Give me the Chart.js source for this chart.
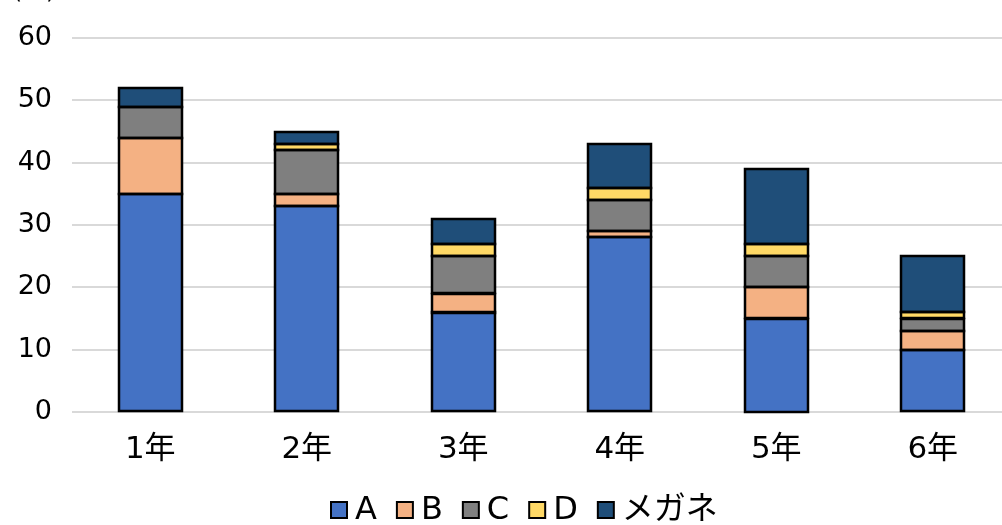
<!DOCTYPE html>
<html>
<head>
<meta charset="utf-8">
<script src="https://cdn.jsdelivr.net/npm/chart.js@4/dist/chart.umd.min.js"></script>
<style>
  html, body { margin: 0; padding: 0; background: #fff; overflow: hidden; }
  #wrap { width: 1002px; height: 525px; overflow: hidden; }
</style>
</head>
<body>
<div id="wrap"><canvas id="chart" width="1011" height="525"></canvas></div>
<script>
// 学年ごとの人数
const grades = ['1年', '2年', '3年', '4年', '5年', '6年'];
const seriesA = [35, 33, 16, 28, 15, 10];
const seriesB = [9, 2, 3, 1, 5, 3];
const seriesC = [5, 7, 6, 5, 5, 2];
const seriesD = [0, 1, 2, 2, 2, 1];
const seriesMegane = [3, 2, 4, 7, 12, 9];
const yTicks = [0, 10, 20, 30, 40, 50, 60];

const font = "'DejaVu Sans', 'Noto Sans CJK JP', sans-serif";

function ds(label, data, color) {
  return {
    label, data,
    backgroundColor: color,
    borderWidth: 0,
    barPercentage: 0.4,
    categoryPercentage: 1.0
  };
}

// 左上の単位ラベル（上端で切れている）
const unitLabel = {
  id: 'unitLabel',
  afterDraw(chart) {
    const ctx = chart.ctx;
    ctx.save();
    ctx.font = '24px ' + font;
    ctx.fillStyle = '#000';
    ctx.textAlign = 'center';
    ctx.textBaseline = 'bottom';
    ctx.fillText('(人)', 34, 4);
    ctx.restore();
  }
};

// 棒の黒い枠線（辺の中心に描く）
const barOutline = {
  id: 'barOutline',
  afterDatasetsDraw(chart) {
    const ctx = chart.ctx;
    ctx.save();
    ctx.strokeStyle = '#000';
    ctx.lineWidth = 2.5;
    chart.data.datasets.forEach((d, i) => {
      chart.getDatasetMeta(i).data.forEach((bar, j) => {
        if (!d.data[j]) return;
        const { x, y, base, width } = bar.getProps(['x', 'y', 'base', 'width'], true);
        ctx.strokeRect(Math.round(x - width / 2), Math.round(y), Math.round(width), Math.round(base - y));
      });
    });
    ctx.restore();
  }
};

// 凡例（Excel風: 小さい四角と文字の間を詰める）
const legendRow = {
  id: 'legendRow',
  afterDraw(chart) {
    const ctx = chart.ctx;
    const box = 16, gap = 8, itemGap = 20, cy = 510;
    ctx.save();
    ctx.font = '32px ' + font;
    ctx.textBaseline = 'middle';
    const items = chart.data.datasets.map(d => ({ label: d.label, color: d.backgroundColor, w: ctx.measureText(d.label).width }));
    let total = 0;
    items.forEach((it, i) => { total += box + gap + it.w + (i ? itemGap : 0); });
    let x = Math.round(524.5 - total / 2);
    items.forEach(it => {
      ctx.fillStyle = it.color;
      ctx.fillRect(x, cy - box / 2, box, box);
      ctx.strokeStyle = '#000';
      ctx.lineWidth = 2;
      ctx.strokeRect(x, cy - box / 2, box, box);
      ctx.fillStyle = '#000';
      ctx.textAlign = 'left';
      ctx.fillText(it.label, x + box + gap, cy + 1);
      x += box + gap + it.w + itemGap;
    });
    ctx.restore();
  }
};

new Chart(document.getElementById('chart').getContext('2d'), {
  type: 'bar',
  data: {
    labels: grades,
    datasets: [
      ds('A', seriesA, '#4472C4'),
      ds('B', seriesB, '#F4B183'),
      ds('C', seriesC, '#7F7F7F'),
      ds('D', seriesD, '#FFD966'),
      ds('メガネ', seriesMegane, '#1F4E79')
    ]
  },
  options: {
    responsive: false,
    animation: false,
    devicePixelRatio: 1,
    layout: { padding: { top: 38, left: 0, right: 0, bottom: 0 } },
    plugins: {
      tooltip: { enabled: false },
      legend: { display: false }
    },
    scales: {
      x: {
        stacked: true,
        grid: { display: false, drawTicks: false },
        border: { display: false },
        ticks: { font: { family: font, size: 31 }, color: '#000', padding: 19 },
        afterFit(scale) { scale.height = 113; }
      },
      y: {
        stacked: true,
        min: 0,
        max: 60,
        afterBuildTicks(scale) { scale.ticks = yTicks.map(v => ({ value: v })); },
        grid: { color: '#D9D9D9', lineWidth: 2, drawTicks: false },
        border: { display: false },
        ticks: { font: { family: font, size: 27 }, color: '#000', padding: 20 },
        afterFit(scale) { scale.width = 72; }
      }
    }
  },
  plugins: [unitLabel, barOutline, legendRow]
});
</script>
</body>
</html>
